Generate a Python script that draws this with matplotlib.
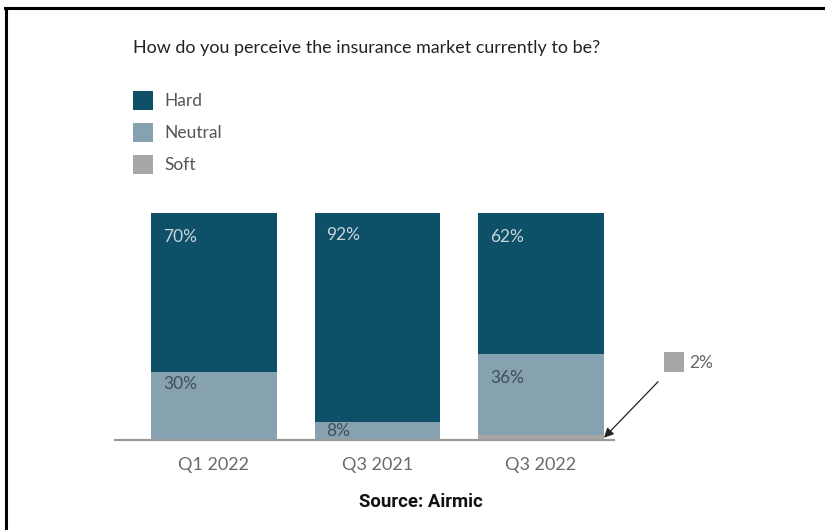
import matplotlib
matplotlib.use("Agg")
import matplotlib.pyplot as plt
from matplotlib.patches import Patch
from matplotlib.lines import Line2D
from matplotlib.transforms import offset_copy

# Survey data
categories = ["Q1 2022", "Q3 2021", "Q3 2022"]
soft = [0, 0, 2]
neutral = [30, 8, 36]
hard = [70, 92, 62]
series_names = ["Hard", "Neutral", "Soft"]
title = "How do you perceive the insurance market currently to be?"
source = "Source: Airmic"

# Styling
c_hard = "#0d5068"
c_neutral = "#86a2b0"
c_soft = "#a9a7a5"
font = "Lato"

W, H = 825, 530
fig = plt.figure(figsize=(W / 100, H / 100), dpi=100)
fig.patch.set_facecolor("white")

# axes placed so the baseline sits at y=440 px and spans x=115..614 px
ax = fig.add_axes([115 / W, (H - 440) / H, (614 - 115) / W, 227 / H])
x = list(range(len(categories)))
width = 0.77

ax.bar(x, soft, width, color=c_soft, linewidth=0)
ax.bar(x, neutral, width, bottom=soft, color=c_neutral, linewidth=0)
base_h = [s + n for s, n in zip(soft, neutral)]
ax.bar(x, hard, width, bottom=base_h, color=c_hard, linewidth=0)

ax.set_xlim(-0.605, 2.446)
ax.set_ylim(0, 100)
for s in ["top", "right", "left"]:
    ax.spines[s].set_visible(False)
ax.spines["bottom"].set_color("#9a9a9a")
ax.spines["bottom"].set_linewidth(1.6)
ax.set_yticks([])
ax.set_xticks(x)
ax.set_xticklabels(categories, fontsize=13, color="#6a6a6a", family=font)
ax.tick_params(axis="x", length=0, pad=12)

# value labels inside segments (pixel offsets from the segment's top-left corner)
hard_off = [-24, -22, -24]
neutral_off = [-12, -9, -24]
for i in x:
    left = i - width / 2
    ax.annotate(f"{hard[i]}%", xy=(left, base_h[i] + hard[i]),
                xytext=(12, hard_off[i]), textcoords="offset pixels",
                ha="left", va="center", fontsize=12.5, color="#c9d4db",
                family=font)
    ax.annotate(f"{neutral[i]}%", xy=(left, base_h[i]),
                xytext=(12, neutral_off[i]), textcoords="offset pixels",
                ha="left", va="center", fontsize=12.5, color="#3e505b",
                family=font)

# callout for the thin "Soft" segment
k = 2
head = (k + width / 2, soft[k] / 2)
ax.annotate("", xy=head, xytext=(54, 56), textcoords="offset pixels",
            arrowprops=dict(arrowstyle="-|>", color="#222222", lw=0.9,
                            mutation_scale=14, shrinkA=0, shrinkB=0),
            annotation_clip=False)
sq_tr = offset_copy(ax.transData, fig=fig, x=69.5, y=75.5, units="dots")
ax.plot([head[0]], [head[1]], marker="s", ms=14.2, color=c_soft,
        markeredgewidth=0, transform=sq_tr, clip_on=False)
ax.annotate(f"{soft[k]}%", xy=head, xytext=(85, 75), textcoords="offset pixels",
            ha="left", va="center", fontsize=12.5, color="#666666",
            family=font, annotation_clip=False)

# title
fig.text(133 / W, 1 - 48 / H, title, ha="left", va="center", fontsize=12.85,
         color="#222222", family=font)

# legend
handles = [Patch(facecolor=c, edgecolor="none") for c in (c_hard, c_neutral, c_soft)]
leg = fig.legend(handles, series_names, loc="upper left",
                 bbox_to_anchor=(133 / W, 1 - 91 / H), frameon=False,
                 handlelength=1.15, handleheight=1.3,
                 labelspacing=0.75, handletextpad=0.65, borderpad=0,
                 borderaxespad=0, prop=dict(family=font, size=12.5))
for t in leg.get_texts():
    t.set_color("#555555")

# source line
fig.text(421 / W, 1 - 502 / H, source, ha="center", va="center", fontsize=13.3,
         fontweight="bold", color="#111111", family="Roboto")

# page frame (top and left edges)
fig.add_artist(Line2D([5 / W, 1], [1 - 8 / H, 1 - 8 / H], color="black", lw=2.2,
                      transform=fig.transFigure))
fig.add_artist(Line2D([6 / W, 6 / W], [0, 1 - 8 / H], color="black", lw=2.2,
                      transform=fig.transFigure))

fig.savefig("out.png", dpi=100, facecolor="white")
